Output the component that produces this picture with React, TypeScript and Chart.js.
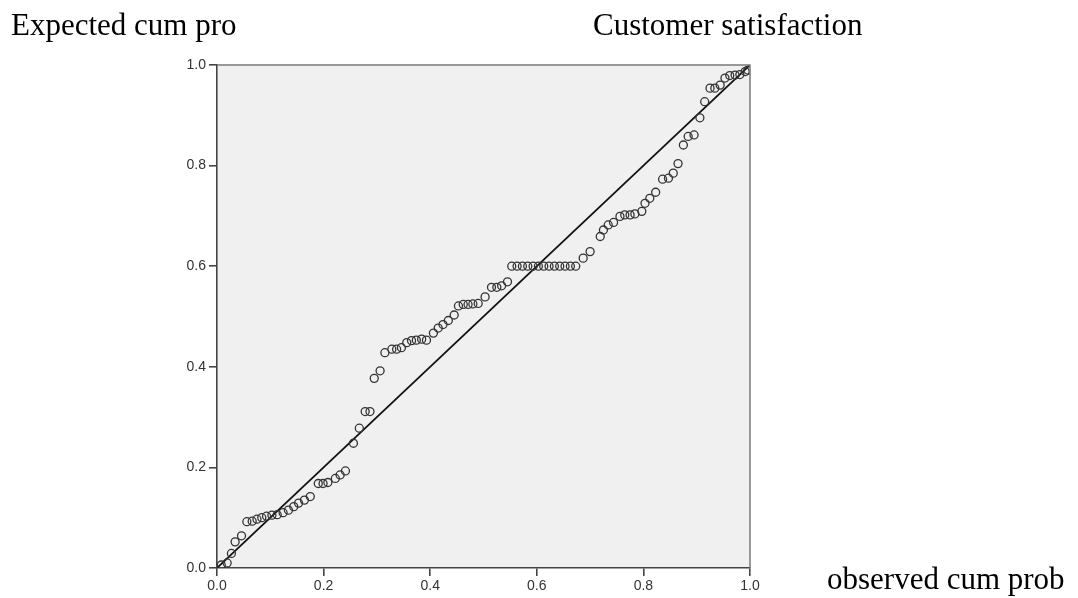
import React, { useEffect, useRef } from "react";
import { Chart, registerables } from "chart.js";

Chart.register(...registerables);

// Observed cumulative probability (x) vs expected cumulative probability (y)
const observedCum: number[] = [
  0.008, 0.019, 0.027, 0.034, 0.046, 0.056, 0.066, 0.075, 0.084, 0.093, 0.103, 0.113, 0.124, 0.134, 0.144, 0.153, 0.164,
  0.175, 0.19, 0.199, 0.208, 0.222, 0.231, 0.241,
  0.256, 0.267, 0.278, 0.287, 0.295, 0.306,
  0.315, 0.328, 0.337, 0.346, 0.356, 0.365, 0.374, 0.384, 0.393, 0.406, 0.415, 0.424, 0.434, 0.445, 0.453, 0.462, 0.471, 0.48, 0.49,
  0.503, 0.515, 0.525, 0.534, 0.545,
  0.553, 0.563, 0.573, 0.583, 0.593, 0.603, 0.613, 0.623, 0.633, 0.643, 0.653, 0.663, 0.673,
  0.687, 0.7, 0.719, 0.725, 0.734, 0.744, 0.756, 0.765, 0.775, 0.784, 0.797, 0.803, 0.812, 0.823,
  0.836, 0.847, 0.856, 0.865, 0.875, 0.884, 0.895, 0.906, 0.915, 0.925, 0.934, 0.944, 0.953, 0.962, 0.972, 0.981, 0.991, 0.996,
];
const expectedCum: number[] = [
  0.006, 0.01, 0.029, 0.052, 0.064, 0.092, 0.093, 0.097, 0.1, 0.103, 0.105, 0.106, 0.11, 0.115, 0.122, 0.129, 0.135,
  0.142, 0.168, 0.168, 0.17, 0.178, 0.185, 0.193,
  0.248, 0.278, 0.311, 0.311, 0.377, 0.392,
  0.428, 0.435, 0.435, 0.438, 0.448, 0.452, 0.453, 0.455, 0.453, 0.467, 0.477, 0.484, 0.492, 0.503, 0.521, 0.524, 0.524, 0.525, 0.526,
  0.539, 0.558, 0.558, 0.561, 0.569,
  0.6, 0.6, 0.6, 0.6, 0.6, 0.6, 0.6, 0.6, 0.6, 0.6, 0.6, 0.6, 0.6,
  0.616, 0.629, 0.659, 0.672, 0.682, 0.687, 0.699, 0.702, 0.702, 0.704, 0.709, 0.725, 0.735, 0.747,
  0.773, 0.775, 0.785, 0.804, 0.841, 0.858, 0.861, 0.895, 0.927, 0.954, 0.954, 0.96, 0.974, 0.979, 0.98, 0.981, 0.987, 0.99,
];
const refLineX: number[] = [0, 1];
const refLineY: number[] = [0, 1];
const tickValues: number[] = [0, 0.2, 0.4, 0.6, 0.8, 1.0];

const titleLeft = "Expected cum pro";
const titleCenter = "Customer satisfaction";
const axisLabelRight = "observed cum prob";

const W = 1078;
const H = 598;
const AREA = { left: 217, top: 65, right: 750, bottom: 568 };

const framePlugin = {
  id: "frame",
  beforeDraw(chart: any) {
    const { ctx, chartArea } = chart;
    ctx.save();
    ctx.fillStyle = "#f0f0f0";
    ctx.fillRect(chartArea.left, chartArea.top, chartArea.right - chartArea.left, chartArea.bottom - chartArea.top);
    ctx.restore();
  },
  afterDatasetsDraw(chart: any) {
    const { ctx, chartArea } = chart;
    ctx.save();
    ctx.strokeStyle = "#7a7a7a";
    ctx.lineWidth = 1.5;
    ctx.beginPath();
    ctx.moveTo(chartArea.left, chartArea.top);
    ctx.lineTo(chartArea.right, chartArea.top);
    ctx.lineTo(chartArea.right, chartArea.bottom);
    ctx.stroke();
    ctx.restore();
  },
};

const serif = '"Liberation Serif", "Times New Roman", serif';
const tickFont = { family: '"Liberation Sans", Arial, sans-serif', size: 14 };

export default function App() {
  const ref = useRef<HTMLCanvasElement | null>(null);

  useEffect(() => {
    if (!ref.current) return;
    const points = observedCum.map((x, i) => ({ x, y: expectedCum[i] }));
    const line = refLineX.map((x, i) => ({ x, y: refLineY[i] }));
    const chart = new Chart(ref.current, {
      type: "scatter",
      data: {
        datasets: [
          {
            type: "line",
            data: line,
            borderColor: "#111111",
            borderWidth: 1.7,
            pointRadius: 0,
            showLine: true,
            fill: false,
            order: 2,
          } as any,
          {
            data: points,
            pointStyle: "circle",
            pointRadius: 4,
            pointBorderWidth: 1.3,
            pointBorderColor: "#333333",
            pointBackgroundColor: "rgba(0,0,0,0)",
            order: 1,
          } as any,
        ],
      },
      options: {
        responsive: false,
        animation: false,
        events: [],
        layout: {
          padding: { left: 0, top: AREA.top, right: W - AREA.right, bottom: 0 },
        },
        plugins: { legend: { display: false }, tooltip: { enabled: false } },
        scales: {
          x: {
            type: "linear",
            min: 0,
            max: 1,
            afterFit(scale: any) {
              scale.height = H - AREA.bottom;
            },
            afterBuildTicks(scale: any) {
              scale.ticks = tickValues.map((v) => ({ value: v }));
            },
            border: { display: true, color: "#444444", width: 1.6 },
            grid: { display: true, drawOnChartArea: false, drawTicks: true, tickLength: 8, color: "#444444", lineWidth: 1.6 },
            ticks: {
              padding: 2,
              color: "#333333",
              font: tickFont,
              callback: (v: any) => Number(v).toFixed(1),
            },
          },
          y: {
            type: "linear",
            min: 0,
            max: 1,
            afterFit(scale: any) {
              scale.width = AREA.left;
            },
            afterBuildTicks(scale: any) {
              scale.ticks = tickValues.map((v) => ({ value: v }));
            },
            border: { display: true, color: "#444444", width: 1.6 },
            grid: { display: true, drawOnChartArea: false, drawTicks: true, tickLength: 8, color: "#444444", lineWidth: 1.6 },
            ticks: {
              padding: 3,
              color: "#333333",
              font: tickFont,
              callback: (v: any) => Number(v).toFixed(1),
            },
          },
        },
      },
      plugins: [framePlugin],
    });
    return () => chart.destroy();
  }, []);

  const textStyle: React.CSSProperties = {
    position: "absolute",
    fontFamily: serif,
    fontSize: 31,
    lineHeight: "31px",
    color: "#000",
    whiteSpace: "nowrap",
    margin: 0,
  };

  return (
    <div style={{ position: "absolute", left: 0, top: 0, width: W, height: H, background: "#fff", overflow: "hidden" }}>
      <canvas ref={ref} width={W} height={H} style={{ position: "absolute", left: 0, top: 0, width: W, height: H }} />
      <div style={{ ...textStyle, left: 11, top: 9 }}>{titleLeft}</div>
      <div style={{ ...textStyle, left: 593, top: 9 }}>{titleCenter}</div>
      <div style={{ ...textStyle, left: 827, top: 563 }}>{axisLabelRight}</div>
    </div>
  );
}
